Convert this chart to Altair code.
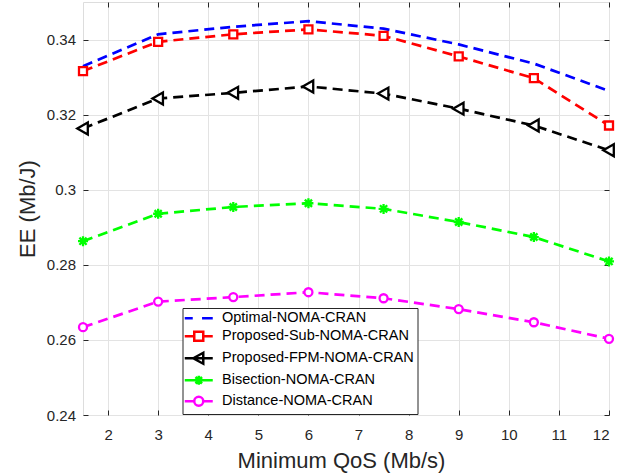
import altair as alt
import pandas as pd

# ---- data ----
qos = [1.5, 3, 4.5, 6, 7.5, 9, 10.5, 12]
optimal = [0.3329, 0.3414, 0.3434, 0.3449, 0.3429, 0.3387, 0.3336, 0.3263]
proposed_sub = [0.3316, 0.3394, 0.3414, 0.3427, 0.3410, 0.3355, 0.3297, 0.3171]
proposed_fpm = [0.3163, 0.3243, 0.3258, 0.3275, 0.3256, 0.3216, 0.3171, 0.3105]
bisection = [0.2863, 0.2936, 0.2954, 0.2964, 0.2949, 0.2914, 0.2874, 0.2809]
distance = [0.2634, 0.2702, 0.2714, 0.2727, 0.2711, 0.2682, 0.2647, 0.2603]

series_names = ["Optimal-NOMA-CRAN", "Proposed-Sub-NOMA-CRAN", "Proposed-FPM-NOMA-CRAN",
                "Bisection-NOMA-CRAN", "Distance-NOMA-CRAN"]
series_values = [optimal, proposed_sub, proposed_fpm, bisection, distance]
series_colors = ["#0000ff", "#ff0000", "#000000", "#00ff00", "#ff00ff"]

x_ticks = [2, 3, 4, 5, 6, 7, 8, 9, 10, 11, 12]
y_ticks = [0.24, 0.26, 0.28, 0.30, 0.32, 0.34]

# ---- marker styles ----
ASTERISK = "M-1,0H1M0,-1V1M-0.72,-0.72L0.72,0.72M-0.72,0.72L0.72,-0.72"
TRI_LEFT = "M-0.95,0L0.8,-1L0.8,1Z"
markers = {
    "Proposed-Sub-NOMA-CRAN": ("square", 64),
    "Proposed-FPM-NOMA-CRAN": (TRI_LEFT, 144),
    "Bisection-NOMA-CRAN": (ASTERISK, 100),
    "Distance-NOMA-CRAN": ("circle", 64),
}
legend_paths = [
    "M-2.8,0H-1.2M0.66,0H2.8",
    "M-2.8,0H-0.9M0.9,0H2.8M-0.9,-0.9H0.9V0.9H-0.9Z",
    "M-2.8,0H2.8M-1.1,0L0.9,-1.1L0.9,1.1Z",
    "M-2.8,0H2.8M-0.9,0H0.9M0,-0.9V0.9M-0.65,-0.65L0.65,0.65M-0.65,0.65L0.65,-0.65",
    "M-2.8,0H-0.9M0.9,0H2.8M0.9,0A0.9,0.9 0 1,1 -0.9,0A0.9,0.9 0 1,1 0.9,0Z",
]

rows = []
for name, vals in zip(series_names, series_values):
    for q, v in zip(qos, vals):
        rows.append({"qos": q, "ee": v, "series": name})
df = pd.DataFrame(rows)

FONT = "Liberation Sans"
AX = "#262626"
xs = alt.Scale(domain=[1.5, 12], nice=False, zero=False)
ys = alt.Scale(domain=[0.24, 0.35], nice=False, zero=False)
color_scale = alt.Scale(domain=series_names, range=series_colors)

base = alt.Chart(df)

x_main = alt.Axis(values=x_ticks, grid=True, gridColor="#e3e3e3", gridWidth=1, domain=False,
                  ticks=True, tickSize=5, tickColor=AX, tickWidth=1, offset=-5,
                  labelFont=FONT, labelFontSize=15, labelColor=AX, labelPadding=12,
                  title="Minimum QoS (Mb/s)", titleFont=FONT, titleFontSize=22,
                  titleFontWeight="normal", titleColor=AX, titleX=258, titleY=57,
                  titleBaseline="alphabetic")
y_main = alt.Axis(values=y_ticks, format=".2~f", grid=True, gridColor="#e3e3e3", gridWidth=1,
                  domain=False, ticks=True, tickSize=5, tickColor=AX, tickWidth=1, offset=-5,
                  labelFont=FONT, labelFontSize=15, labelColor=AX, labelPadding=7.5,
                  title="EE (Mb/J)", titleFont=FONT, titleFontSize=22, titleFontWeight="normal",
                  titleColor=AX, titleX=-54, titleY=206.5, titleBaseline="alphabetic")

leg = alt.Legend(orient="none", legendX=99.5, legendY=306, title=None,
                 strokeColor=AX, fillColor="white", padding=3, cornerRadius=0,
                 symbolSize=100, symbolStrokeWidth=2.5, symbolOffset=6, labelOffset=16,
                 symbolOpacity=1, symbolFillColor="transparent",
                 labelFont=FONT, labelFontSize=14.5, labelColor="#000000", labelLimit=400,
                 rowPadding=1)

# one dashed line per series (first one carries the main axes)
line_layers = []
for i, (name, col) in enumerate(zip(series_names, series_colors)):
    line_layers.append(
        base.transform_filter(alt.datum.series == name).mark_line(
            stroke=col, strokeDash=[10, 6], strokeWidth=2.7
        ).encode(
            x=alt.X("qos:Q", scale=xs, axis=x_main if i == 0 else None),
            y=alt.Y("ee:Q", scale=ys, axis=y_main if i == 0 else None),
        )
    )

point_layers = []
for name, col in zip(series_names, series_colors):
    if name not in markers:
        continue
    shp, sz = markers[name]
    point_layers.append(
        base.transform_filter(alt.datum.series == name).mark_point(
            shape=shp, size=sz, filled=False, fill="white", stroke=col,
            strokeWidth=2.3, opacity=1
        ).encode(
            x=alt.X("qos:Q", scale=xs, axis=None),
            y=alt.Y("ee:Q", scale=ys, axis=None),
        )
    )

# layer without marks that only carries the legend (line segment + marker symbols)
legend_layer = base.transform_filter("false").mark_point(
    filled=False, opacity=1, strokeWidth=2.5, size=100
).encode(
    x=alt.X("qos:Q", scale=xs, axis=None),
    y=alt.Y("ee:Q", scale=ys, axis=None),
    color=alt.Color("series:N", scale=color_scale, legend=leg),
    shape=alt.Shape("series:N", scale=alt.Scale(domain=series_names, range=legend_paths), legend=leg),
)

tick_layer = base.transform_filter("false").mark_point(opacity=0).encode(
    x=alt.X("qos:Q", scale=xs, axis=alt.Axis(orient="top", values=x_ticks, labels=False, grid=False,
                                             domain=False, ticks=True, tickSize=5, tickColor=AX,
                                             offset=-5, title=None)),
    y=alt.Y("ee:Q", scale=ys, axis=alt.Axis(orient="right", values=y_ticks, labels=False, grid=False,
                                            domain=False, ticks=True, tickSize=5, tickColor=AX,
                                            offset=-5, title=None)),
)

chart = alt.layer(*line_layers, *point_layers, legend_layer, tick_layer).resolve_axis(
    x="independent", y="independent"
).properties(
    width=526, height=413,
    autosize=alt.AutoSizeParams(type="none"),
    padding={"left": 83, "top": 2, "right": 25, "bottom": 61},
).configure_view(stroke=AX, strokeWidth=1).configure(background="white")

chart.save("out.html", embed_options={"renderer": "svg", "actions": False})
